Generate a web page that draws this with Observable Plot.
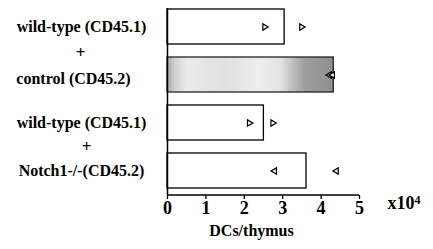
<!DOCTYPE html>
<html><head><meta charset="utf-8">
<script src="https://cdn.jsdelivr.net/npm/d3@7"></script>
<script src="https://cdn.jsdelivr.net/npm/@observablehq/plot@0.6"></script>
<style>
body{margin:0;background:#fff}
#chart svg text{font-family:"Liberation Serif","DejaVu Serif","Noto Serif",Tinos,"Times New Roman",Times,serif !important;font-weight:bold}
</style>
</head><body><div id="chart"></div>
<script>
// Data
const rows = ["wt1", "control", "wt2", "notch"];
const rowLabels = ["wild-type (CD45.1)", "control (CD45.2)", "wild-type (CD45.1)", "Notch1-/-(CD45.2)"];
const barValues = [3.05, 4.33, 2.51, 3.62];
const markerRows = ["wt1", "wt1", "control", "control", "wt2", "wt2", "notch", "notch"];
const markerValues = [2.53, 3.49, 4.22, 4.3, 2.13, 2.74, 2.79, 4.4];
const markerDirection = ["right", "right", "left", "left", "right", "right", "left", "left"];
const xTicks = [0, 1, 2, 3, 4, 5];
const xLabel = "DCs/thymus";
const multiplier = "x10";
const exponent = "4";

const bars = rows.map((r, i) => ({row: r, value: barValues[i], label: rowLabels[i]}));
const markers = markerRows.map((r, i) => ({row: r, value: markerValues[i], dir: markerDirection[i]}));

const serif = "Liberation Serif, DejaVu Serif, serif";

const chart = Plot.plot({
  width: 433,
  height: 249,
  marginLeft: 167,
  marginRight: 74,
  marginTop: 8,
  marginBottom: 54,
  style: {fontFamily: serif, fontWeight: "bold", background: "white", color: "black"},
  x: {domain: [0, 5]},
  y: {domain: rows, paddingInner: 0.28, paddingOuter: 0, insetBottom: 7, axis: null},
  marks: [
    Plot.barX(bars.filter(d => d.row !== "control"), {y: "row", x: "value", fill: "white", stroke: "black", strokeWidth: 1.3}),
    Plot.barX(bars.filter(d => d.row === "control"), {y: "row", x: "value", fill: "url(#stip)", stroke: "#222", strokeWidth: 1.3}),
    Plot.dot(markers, {x: "value", y: "row", symbol: "triangle", r: 2.3, rotate: d => d.dir === "right" ? 90 : -90, stroke: "black", fill: "white", strokeWidth: 1.2}),
    Plot.ruleX([0], {stroke: "black", strokeWidth: 1.5}),
    (index, scales, values, dims) => {
      const yb = dims.height - dims.marginBottom;
      return d3.create("svg:line")
        .attr("x1", scales.x(0)).attr("x2", scales.x(5))
        .attr("y1", yb).attr("y2", yb)
        .attr("stroke", "black").attr("stroke-width", 1.5).node();
    },
    Plot.axisX({ticks: xTicks, tickSize: 4, tickPadding: 2, fontSize: 18, label: null, tickFormat: d3.format("d"), strokeWidth: 1.3}),
    // row labels
    Plot.text(bars.filter(d => d.row !== "control"), {y: "row", text: "label", frameAnchor: "left", dx: -86, textAnchor: "middle", fontSize: 16}),
    Plot.text(bars.filter(d => d.row === "control"), {y: "row", text: "label", frameAnchor: "left", dx: -94, dy: 4, textAnchor: "middle", fontSize: 16}),
    Plot.text(bars.filter(d => d.row === "wt1"), {y: "row", text: () => "+", frameAnchor: "left", dx: -87, dy: 26, textAnchor: "middle", fontSize: 17}),
    Plot.text(bars.filter(d => d.row === "wt2"), {y: "row", text: () => "+", frameAnchor: "left", dx: -81, dy: 24, textAnchor: "middle", fontSize: 17}),
    // multiplier
    Plot.text([multiplier], {x: () => 5, frameAnchor: "bottom", text: d => d, dx: 28, dy: 13, textAnchor: "start", fontSize: 18}),
    Plot.text([exponent], {x: () => 5, frameAnchor: "bottom", text: d => d, dx: 55, dy: 8, textAnchor: "start", fontSize: 12}),
    // x label
    Plot.text([xLabel], {frameAnchor: "bottom", text: d => d, dx: -12, dy: 40, textAnchor: "middle", fontSize: 16})
  ]
});

const defs = d3.select(chart).insert("defs", ":first-child");
const grad = defs.append("linearGradient").attr("id", "stip");
[[0, "#a9a9a9"], [0.05, "#d2d2d2"], [0.12, "#ebebeb"], [0.35, "#e0e0e0"], [0.55, "#eeeeee"], [0.68, "#e4e4e4"], [0.76, "#bdbdbd"], [0.83, "#9d9d9d"], [1, "#8f8f8f"]]
  .forEach(([o, c]) => grad.append("stop").attr("offset", o).attr("stop-color", c));

document.getElementById("chart").appendChild(chart);
</script>
</body></html>
